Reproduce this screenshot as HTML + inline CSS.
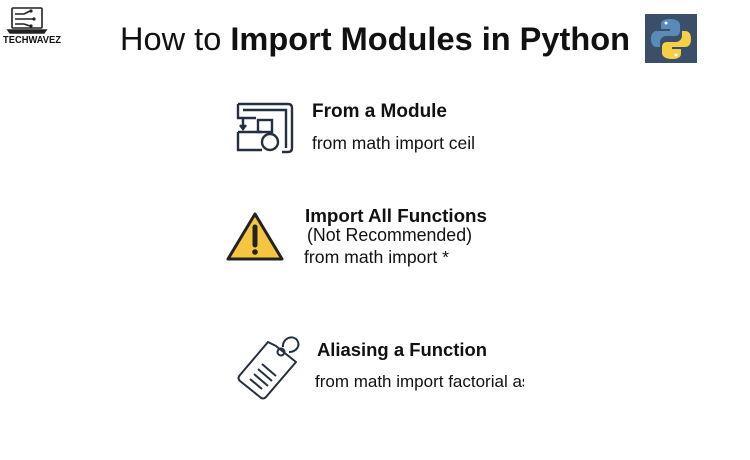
<!DOCTYPE html>
<html><head><meta charset="utf-8"><style>
html,body{margin:0;padding:0;background:#fff;}
svg{display:block;}
text{font-family:"Liberation Sans",sans-serif;fill:#111;}
</style></head><body>
<svg width="750" height="460" viewBox="0 0 750 460" xmlns="http://www.w3.org/2000/svg">
<rect width="750" height="460" fill="#fff"/>
<!-- logo -->
<g stroke="#222" fill="none" stroke-width="1.6">
<rect x="12" y="8" width="30" height="20" rx="1"/>
<path d="M8 30 H46 L44 33 H10 Z" fill="#222"/>
<path d="M15 14 H24 M15 19 H24 M15 24 H24 M24 14 L30 11 M24 19 H33 M24 24 L30 26"/>
</g>
<circle cx="31" cy="11" r="1.6" fill="#222"/><circle cx="34" cy="19" r="1.6" fill="#222"/><circle cx="31" cy="26" r="1.6" fill="#222"/>
<text x="3" y="43" font-size="10" font-weight="bold" textLength="58" lengthAdjust="spacingAndGlyphs">TECHWAVEZ</text>
<!-- title -->
<text x="120" y="50" font-size="32" textLength="510" lengthAdjust="spacingAndGlyphs">How to <tspan font-weight="bold">Import Modules in Python</tspan></text>
<!-- python logo -->
<rect x="645" y="14" width="52" height="49" fill="#3b5068"/>
<path d="M670 19 c-8 0 -9 3 -9 6 v4 h9 v2 h-13 c-4 0 -6 3 -6 8 s2 8 6 8 h3 v-5 c0 -3 3 -6 6 -6 h9 c3 0 5 -2 5 -5 v-6 c0 -3 -3 -6 -10 -6z" fill="#5a8ab8"/>
<path d="M672 59 c8 0 9 -3 9 -6 v-4 h-9 v-2 h13 c4 0 6 -3 6 -8 s-2 -8 -6 -8 h-3 v5 c0 3 -3 6 -6 6 h-9 c-3 0 -5 2 -5 5 v6 c0 3 3 6 10 6z" fill="#f5cf45"/>
<circle cx="666" cy="23" r="1.5" fill="#fff"/><circle cx="676" cy="55" r="1.5" fill="#fff"/>
<!-- icon 1 -->
<g stroke="#24303f" stroke-width="2.4" fill="none">
<path d="M238 104 H288 Q292 104 292 108 V148 Q292 152 288 152 H282"/>
<path d="M238 104 V118 H256 M243 110 H286 V148"/>
<path d="M243 118 V128 M240 125 L243 129 L246 125"/>
<path d="M238 132 H262 M238 132 V150 H262"/>
<rect x="258" y="120" width="14" height="12"/>
<circle cx="270" cy="142" r="8"/>
</g>
<text x="312" y="117" font-size="19" font-weight="bold" textLength="135" lengthAdjust="spacingAndGlyphs">From a Module</text>
<text x="312" y="149" font-size="17.5" textLength="163" lengthAdjust="spacingAndGlyphs">from math import ceil</text>
<!-- warning -->
<path d="M255 214 L282 259 H228 Z" fill="#f5c542" stroke="#222" stroke-width="3" stroke-linejoin="round"/>
<path d="M255 227 V245" stroke="#222" stroke-width="5" stroke-linecap="round"/>
<circle cx="255" cy="252" r="2.8" fill="#222"/>
<text x="305" y="222" font-size="18.5" font-weight="bold" textLength="182" lengthAdjust="spacingAndGlyphs">Import All Functions</text>
<text x="307" y="241" font-size="18.5" textLength="165" lengthAdjust="spacingAndGlyphs">(Not Recommended)</text>
<text x="304" y="263" font-size="17.5" textLength="145" lengthAdjust="spacingAndGlyphs">from math import *</text>
<!-- tag -->
<g stroke="#24303f" stroke-width="2" fill="none" stroke-linejoin="round">
<path d="M276 346 L296 362 L266 397 Q263 400 260 397 L240 381 Q237 378 240 375 L268 342 Z"/>
<circle cx="281" cy="352" r="3.5"/>
<path d="M283 347 C282 339 292 334 297 340 C301 346 296 352 289 352"/>
<path d="M262 364 L276 376 M258 369 L272 381 M254 374 L268 386 M250 379 L262 389"/>
</g>
<text x="317" y="356" font-size="18.5" font-weight="bold" textLength="170" lengthAdjust="spacingAndGlyphs">Aliasing a Function</text>
<clipPath id="c"><rect x="300" y="360" width="224" height="40"/></clipPath>
<text x="315" y="387" font-size="17" clip-path="url(#c)">from math import factorial as f</text>
</svg>
</body></html>
